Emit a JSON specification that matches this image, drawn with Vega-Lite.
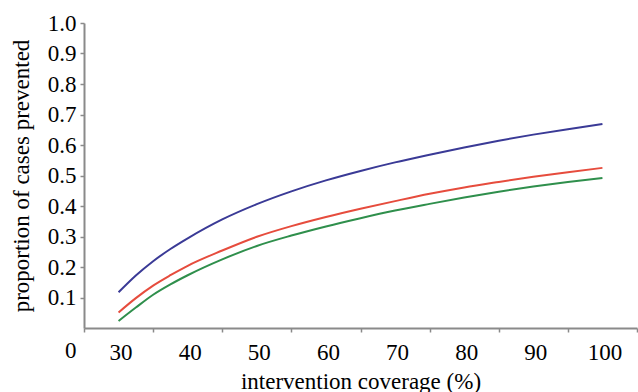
{
  "$schema": "https://vega.github.io/schema/vega-lite/v6.json",
  "width": 553,
  "height": 305,
  "autosize": {"type": "none"},
  "padding": {"left": 84, "top": 23, "right": 1, "bottom": 64},
  "background": "white",
  "config": {
    "view": {"stroke": null},
    "font": "Liberation Serif",
    "axis": {
      "grid": false,
      "labelFont": "Liberation Serif",
      "titleFont": "Liberation Serif",
      "labelColor": "#000000",
      "titleColor": "#000000",
      "labelFontSize": 23,
      "titleFontSize": 23,
      "titleFontWeight": "normal",
      "domainColor": "#8a8a8a",
      "tickColor": "#8a8a8a",
      "domainWidth": 2,
      "tickWidth": 1.5
    }
  },
  "data": {
    "values": [
      {"coverage": 30, "series": "blue", "p": 0.117},
      {"coverage": 32.5, "series": "blue", "p": 0.172},
      {"coverage": 35, "series": "blue", "p": 0.219},
      {"coverage": 37.5, "series": "blue", "p": 0.259},
      {"coverage": 40, "series": "blue", "p": 0.294},
      {"coverage": 45, "series": "blue", "p": 0.356},
      {"coverage": 50, "series": "blue", "p": 0.406},
      {"coverage": 55, "series": "blue", "p": 0.448},
      {"coverage": 60, "series": "blue", "p": 0.484},
      {"coverage": 65, "series": "blue", "p": 0.515},
      {"coverage": 70, "series": "blue", "p": 0.543},
      {"coverage": 75, "series": "blue", "p": 0.568},
      {"coverage": 80, "series": "blue", "p": 0.592},
      {"coverage": 85, "series": "blue", "p": 0.614},
      {"coverage": 90, "series": "blue", "p": 0.634},
      {"coverage": 95, "series": "blue", "p": 0.652},
      {"coverage": 100, "series": "blue", "p": 0.669},
      {"coverage": 30, "series": "red", "p": 0.051},
      {"coverage": 32.5, "series": "red", "p": 0.098},
      {"coverage": 35, "series": "red", "p": 0.139},
      {"coverage": 37.5, "series": "red", "p": 0.173},
      {"coverage": 40, "series": "red", "p": 0.204},
      {"coverage": 45, "series": "red", "p": 0.254},
      {"coverage": 50, "series": "red", "p": 0.299},
      {"coverage": 55, "series": "red", "p": 0.334},
      {"coverage": 60, "series": "red", "p": 0.364},
      {"coverage": 65, "series": "red", "p": 0.391},
      {"coverage": 70, "series": "red", "p": 0.416},
      {"coverage": 75, "series": "red", "p": 0.44},
      {"coverage": 80, "series": "red", "p": 0.461},
      {"coverage": 85, "series": "red", "p": 0.479},
      {"coverage": 90, "series": "red", "p": 0.496},
      {"coverage": 95, "series": "red", "p": 0.511},
      {"coverage": 100, "series": "red", "p": 0.525},
      {"coverage": 30, "series": "green", "p": 0.023},
      {"coverage": 32.5, "series": "green", "p": 0.067},
      {"coverage": 35, "series": "green", "p": 0.109},
      {"coverage": 37.5, "series": "green", "p": 0.143},
      {"coverage": 40, "series": "green", "p": 0.173},
      {"coverage": 45, "series": "green", "p": 0.225},
      {"coverage": 50, "series": "green", "p": 0.269},
      {"coverage": 55, "series": "green", "p": 0.303},
      {"coverage": 60, "series": "green", "p": 0.333},
      {"coverage": 65, "series": "green", "p": 0.36},
      {"coverage": 70, "series": "green", "p": 0.385},
      {"coverage": 75, "series": "green", "p": 0.407},
      {"coverage": 80, "series": "green", "p": 0.428},
      {"coverage": 85, "series": "green", "p": 0.447},
      {"coverage": 90, "series": "green", "p": 0.464},
      {"coverage": 95, "series": "green", "p": 0.479},
      {"coverage": 100, "series": "green", "p": 0.492}
    ]
  },
  "mark": {"type": "line", "strokeWidth": 2, "interpolate": "monotone", "clip": false},
  "encoding": {
    "x": {
      "field": "coverage",
      "type": "quantitative",
      "scale": {"domain": [25, 105], "nice": false, "zero": false},
      "axis": {
        "title": "intervention coverage (%)",
        "values": [25, 30, 35, 40, 45, 50, 55, 60, 65, 70, 75, 80, 85, 90, 95, 100, 105],
        "labelExpr": "datum.value % 10 == 0 ? datum.label : ''",
        "format": "d",
        "tickSize": 4,
        "tickOpacity": {"condition": {"test": "datum.value % 10 == 5", "value": 1}, "value": 0},
        "labelPadding": 9,
        "labelOffset": 2,
        "labelFlush": false,
        "labelOverlap": false,
        "labelBound": false,
        "titlePadding": 6
      }
    },
    "y": {
      "field": "p",
      "type": "quantitative",
      "scale": {"domain": [0, 1], "nice": false},
      "axis": {
        "title": "proportion of cases prevented",
        "values": [0, 0.1, 0.2, 0.3, 0.4, 0.5, 0.6, 0.7, 0.8, 0.9, 1.0],
        "labelExpr": "datum.value == 0 ? '0' : format(datum.value, '.1f')",
        "labelOffset": {"condition": {"test": "datum.value == 0", "value": 22}, "value": 0},
        "tickOpacity": {"condition": {"test": "datum.value == 0", "value": 0}, "value": 1},
        "tickSize": 4,
        "labelPadding": 4,
        "labelOverlap": false,
        "labelFlush": false,
        "labelBound": false,
        "titlePadding": 14
      }
    },
    "color": {
      "field": "series",
      "type": "nominal",
      "scale": {"domain": ["blue", "red", "green"], "range": ["#3a3a96", "#e64c3d", "#2f8f4c"]},
      "legend": null
    }
  }
}
